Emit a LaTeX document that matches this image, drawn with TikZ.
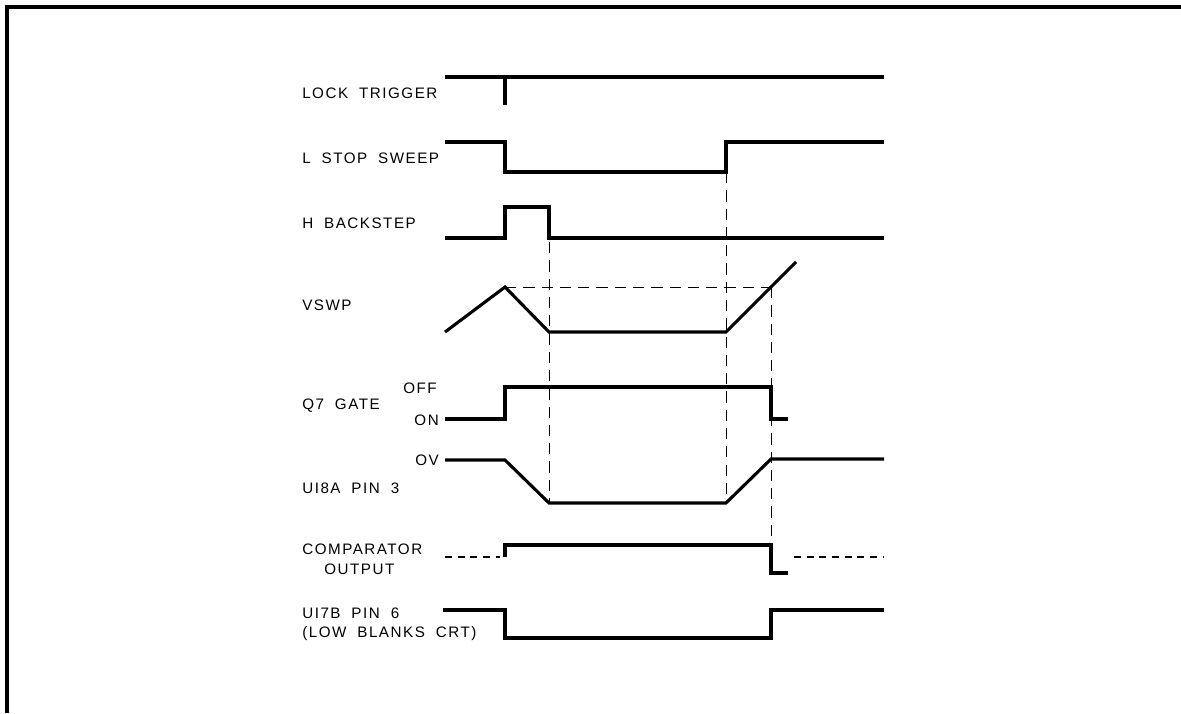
\documentclass[tikz,border=0pt]{standalone}
\usepackage{fontspec}
\newfontfamily\lblfont[LetterSpace=10,WordSpace=1.9]{Liberation Sans}
\usepackage{tikz}
\usetikzlibrary{positioning}

\begin{document}
\begin{tikzpicture}[x=0.025cm,y=-0.025cm,
  every node/.style={font=\lblfont\fontsize{10.8}{13}\selectfont,inner sep=0pt},
  lbl/.style={anchor=west},
  lvl/.style={anchor=east},
  wave/.style={line width=2.2pt,line join=miter},
  guide/.style={line width=0.7pt,dash pattern=on 8pt off 5pt},
  idle/.style={line width=1pt,dash pattern=on 5pt off 4pt}]
\useasboundingbox (0,0) rectangle (1181,713);
% frame
\draw[line width=2.2pt] (7,713)--(7,7)--(1181,7);
% signal names
\node[lbl] (lock) at (302,93) {LOCK TRIGGER};
\node[lbl] (stop) at (302,158) {L STOP SWEEP};
\node[lbl] (back) at (302,223) {H BACKSTEP};
\node[lbl] (vswp) at (302,305) {VSWP};
\node[lbl] (gate) at (302,406) {Q7 GATE};
\node[lbl] (pin3) at (302,488) {UI8A PIN 3};
\node[lbl] (comp) at (302,549) {COMPARATOR};
\node[lbl] (compb) at (324,569) {OUTPUT};
\node[lbl] (pin6) at (302,613) {UI7B PIN 6};
\node[lbl] (pin6b) at (302,634) {(LOW BLANKS CRT)};
\node[lvl] (off) at (437,388) {OFF};
\node[lvl] (on) at (439,420) {ON};
\node[lvl] (zero) at (439,460) {OV};
% guide lines
\draw[guide] (505,287)--(771,287);
\draw[guide] (549,242)--(549,503);
\draw[guide] (726,172)--(726,503);
\draw[guide] (771,287)--(771,546);
% waveforms
\draw[wave] (445,77)--(884,77);
\draw[wave] (505,77)--(505,105);
\draw[wave] (445,142)--(505,142)--(505,172)--(726,172)--(726,142)--(884,142);
\draw[wave] (445,238)--(505,238)--(505,207)--(549,207)--(549,238)--(884,238);
\draw[wave] (445,332)--(505,287)--(549,332)--(726,332)--(796,262);
\draw[wave] (445,419)--(505,419)--(505,387)--(771,387)--(771,419)--(788,419);
\draw[wave] (445,460)--(505,460)--(549,503)--(726,503)--(771,459)--(884,459);
\draw[idle] (445,557)--(500,557);
\draw[wave] (505,557)--(505,545)--(771,545)--(771,573)--(788,573);
\draw[idle] (794,557)--(884,557);
\draw[wave] (443,610)--(505,610)--(505,638)--(771,638)--(771,610)--(884,610);
\end{tikzpicture}
\end{document}
